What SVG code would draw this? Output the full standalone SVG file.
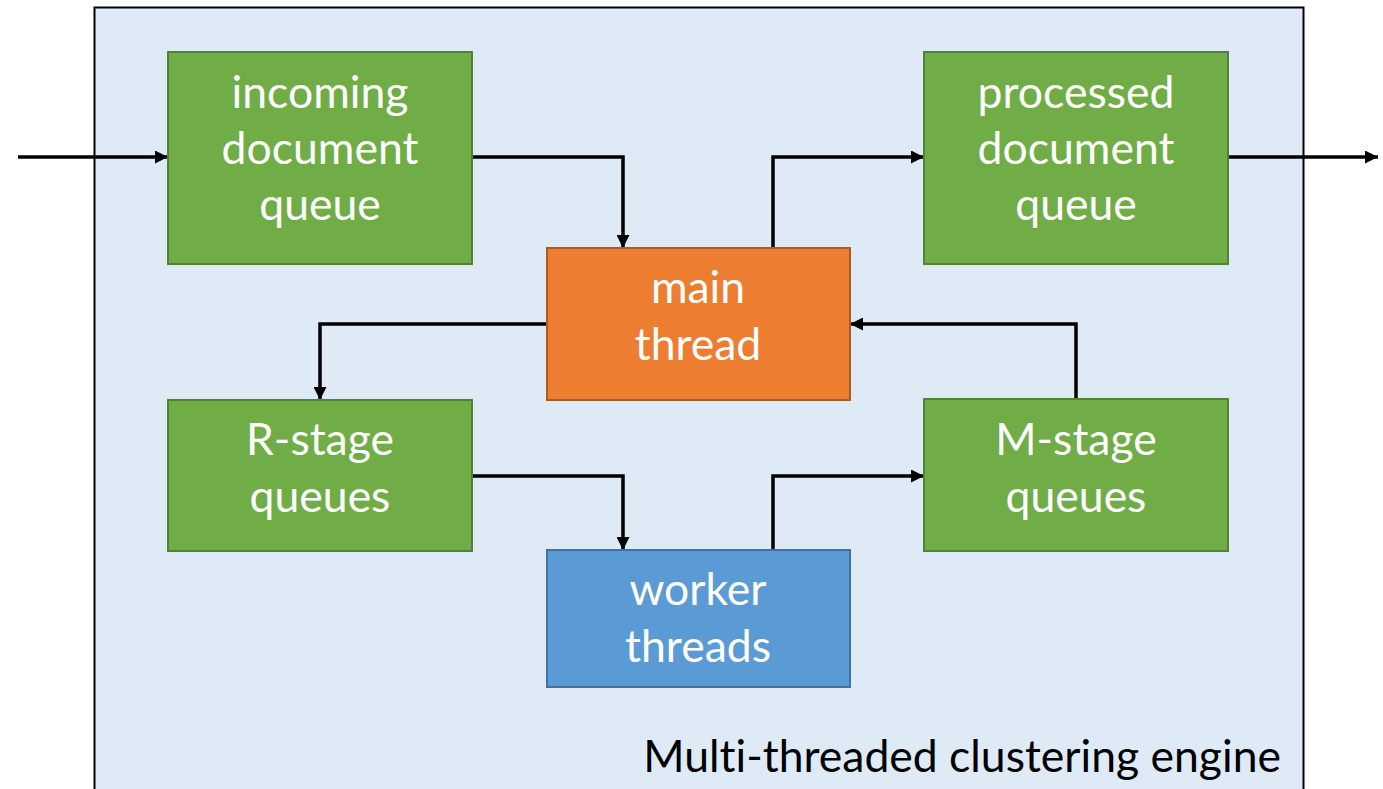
<svg xmlns="http://www.w3.org/2000/svg" width="1383" height="789" viewBox="0 0 1383 789">
<style>
text{font-variant-ligatures:none;font-feature-settings:"liga" 0,"dlig" 0}
.lbl{font-family:Lato,"Liberation Sans",sans-serif;font-size:44.5px;fill:#fff;text-anchor:middle}
.green{fill:#70AD47;stroke:#548235;stroke-width:2}
.conn{fill:none;stroke:#000;stroke-width:3.5;marker-end:url(#ah)}
</style>
<defs>
<marker id="ah" viewBox="0 0 10 10" refX="10" refY="5" markerWidth="15" markerHeight="13" markerUnits="userSpaceOnUse" orient="auto">
<path d="M0,0 L10,5 L0,10 z" fill="#000"/>
</marker>
</defs>
<rect width="1383" height="789" fill="#fff"/>
<g id="engine">
<rect x="94.5" y="7.5" width="1209" height="800" fill="#DEEAF6" stroke="#000" stroke-width="2"/>
<text x="1281" y="772" style="font-family:Lato,'Liberation Sans',sans-serif;font-size:44.5px;fill:#000;text-anchor:end">Multi-threaded clustering engine</text>
</g>
<g id="connectors">
<path class="conn" d="M18,157 H168"/>
<path class="conn" d="M472,157 H623 V248"/>
<path class="conn" d="M773,248 V157 H924"/>
<path class="conn" d="M1228,157 H1378"/>
<path class="conn" d="M547,324 H320 V400"/>
<path class="conn" d="M1076,399 V324 H850"/>
<path class="conn" d="M472,476 H623 V550"/>
<path class="conn" d="M773,550 V476 H924"/>
</g>
<g id="incoming">
<rect class="green" x="168" y="52" width="304" height="212"/>
<text class="lbl" x="320" y="108">incoming</text>
<text class="lbl" x="320" y="164">document</text>
<text class="lbl" x="320" y="220">queue</text>
</g>
<g id="processed">
<rect class="green" x="924" y="52" width="304" height="212"/>
<text class="lbl" x="1076" y="108">processed</text>
<text class="lbl" x="1076" y="164">document</text>
<text class="lbl" x="1076" y="220">queue</text>
</g>
<g id="main">
<rect x="547" y="248" width="303" height="152" fill="#ED7D31" stroke="#AE5A21" stroke-width="2"/>
<text class="lbl" x="698" y="303">main</text>
<text class="lbl" x="698" y="360">thread</text>
</g>
<g id="rstage">
<rect class="green" x="168" y="400" width="304" height="151"/>
<text class="lbl" x="320" y="455">R-stage</text>
<text class="lbl" x="320" y="512">queues</text>
</g>
<g id="mstage">
<rect class="green" x="924" y="399" width="304" height="152"/>
<text class="lbl" x="1076" y="455">M-stage</text>
<text class="lbl" x="1076" y="512">queues</text>
</g>
<g id="worker">
<rect x="547" y="550" width="303" height="137" fill="#5B9BD5" stroke="#41719C" stroke-width="2"/>
<text class="lbl" x="698" y="605">worker</text>
<text class="lbl" x="698" y="662">threads</text>
</g>
</svg>
